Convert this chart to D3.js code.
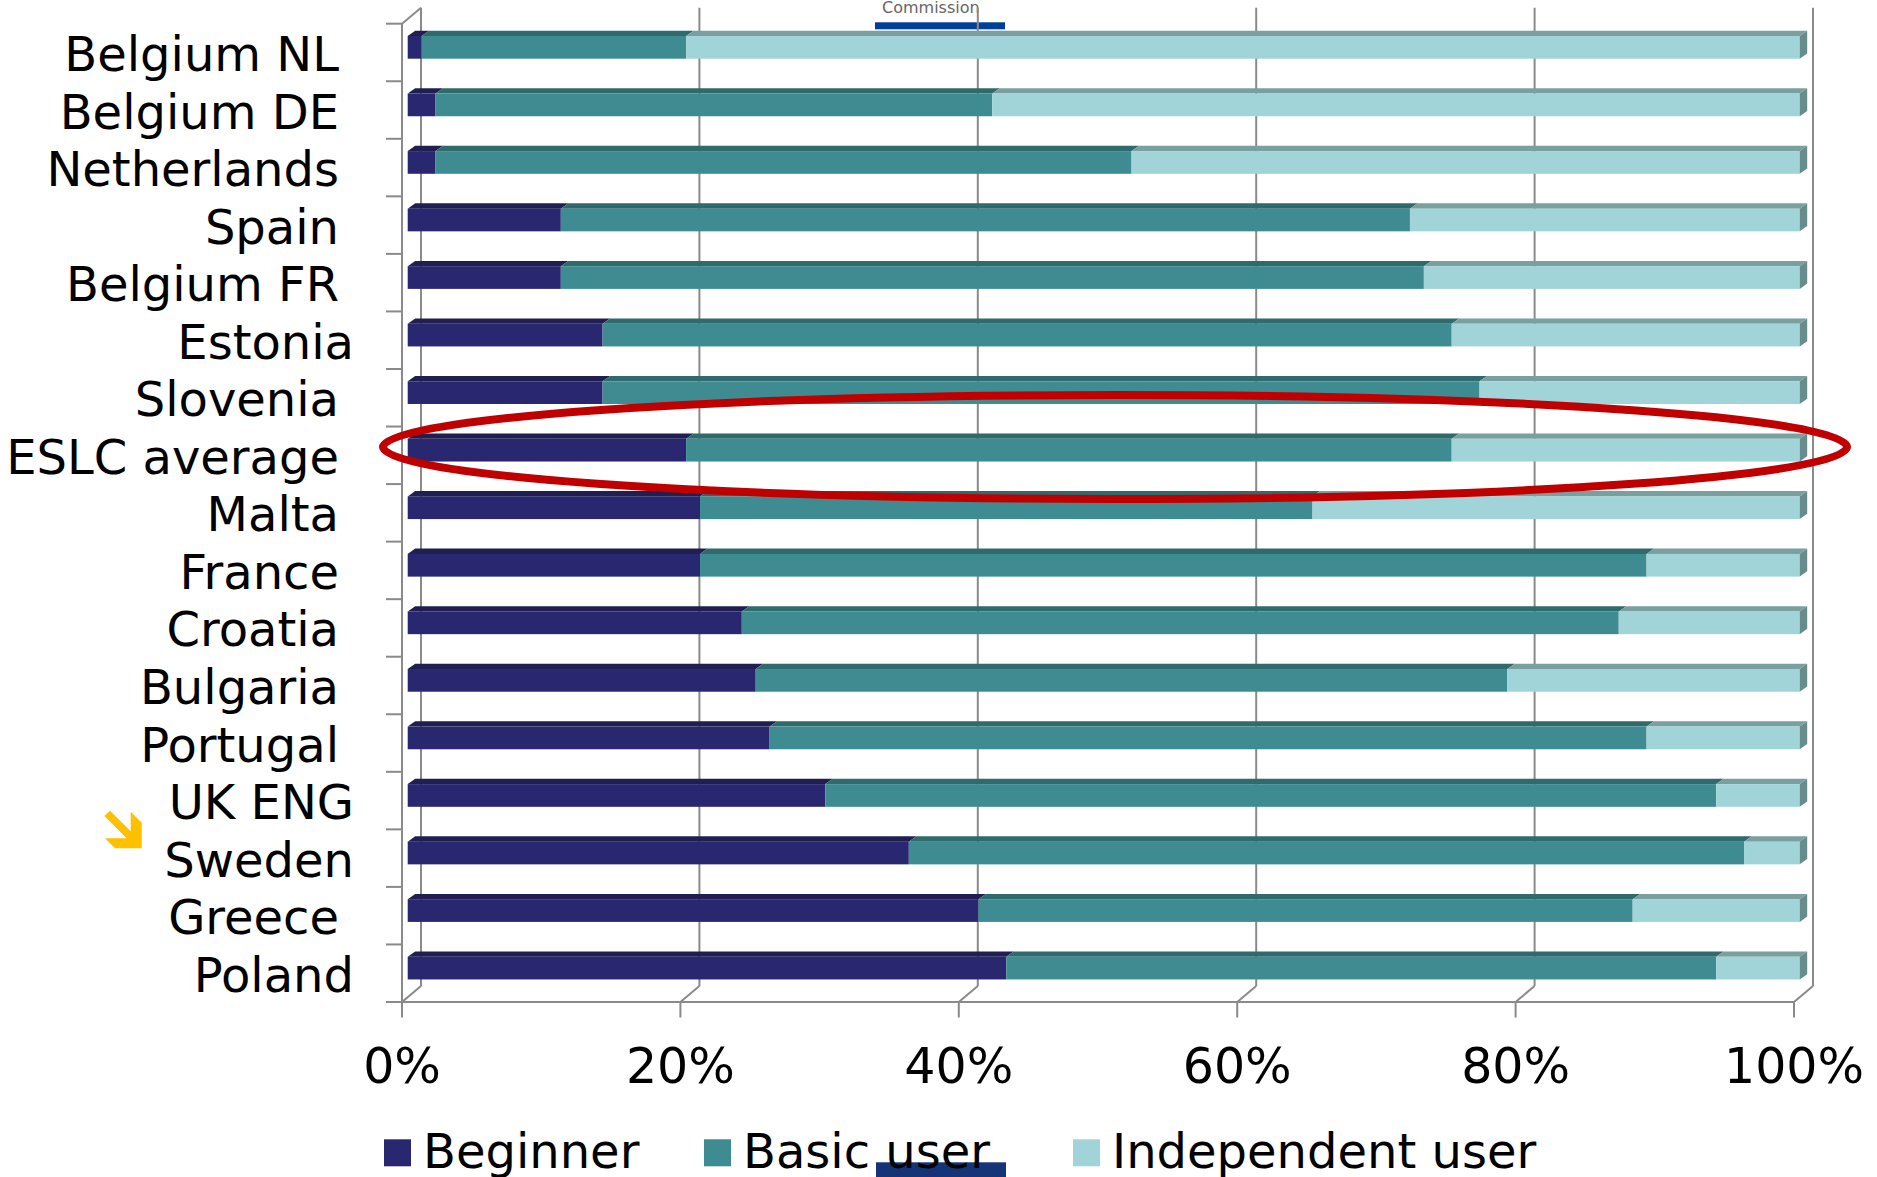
<!DOCTYPE html>
<html>
<head>
<meta charset="utf-8">
<script src="https://cdn.jsdelivr.net/npm/d3@7"></script>
<style>
  html, body { margin: 0; padding: 0; background: #ffffff; }
  svg { display: block; }
  text { font-family: "DejaVu Sans", Verdana, sans-serif; }
</style>
</head>
<body>
<svg id="chart" width="1877" height="1177"></svg>
<script>
// ---------------- data ----------------
const categories = ["Belgium NL", "Belgium DE", "Netherlands", "Spain", "Belgium FR", "Estonia", "Slovenia",
  "ESLC average", "Malta", "France", "Croatia", "Bulgaria", "Portugal", "UK ENG", "Sweden", "Greece", "Poland"];
const beginner    = [1, 2, 2, 11, 11, 14, 14, 20, 21, 21, 24, 25, 26, 30, 36, 41, 43];
const basicUser   = [19, 40, 50, 61, 62, 61, 63, 55, 44, 68, 63, 54, 63, 64, 60, 47, 51];
const independent = [80, 58, 48, 28, 27, 25, 23, 25, 35, 11, 13, 21, 11, 6, 4, 12, 6];
const seriesNames = ["Beginner", "Basic user", "Independent user"];
const tickValues = [0, 20, 40, 60, 80, 100];
const tickLabels = ["0%", "20%", "40%", "60%", "80%", "100%"];

// ---------------- styles ----------------
const frontColors = ["#29276f", "#3e8c92", "#a1d4d8"];
const topColors   = ["#211f52", "#2f6a6d", "#7a9f9f"];
const sideColor   = "#678c8c";
const gridColor   = "#8a8a8a";

const svg = d3.select("#chart");

// table for stacking
const table = categories.map((c, i) => ({
  cat: c, "Beginner": beginner[i], "Basic user": basicUser[i], "Independent user": independent[i]
}));
const stacked = d3.stack().keys(seriesNames)(table);

// ---------------- scales ----------------
const x = d3.scaleLinear().domain([0, 100]).range([402, 1794]);
const y = d3.scaleBand().domain(categories).range([23.7, 1002]).paddingInner(0).paddingOuter(0);
const depth = { dx: 19, dy: -16 };   // back wall offset
const floorY = 1002;
const topY = 23.7;

// ---------------- decorations behind chart ----------------
svg.append("text").attr("x", 882).attr("y", 12.5)
  .attr("font-size", 16).attr("fill", "#666666").text("Commission");
svg.append("rect").attr("x", 875).attr("y", 22.3).attr("width", 130).attr("height", 7)
  .attr("fill", "#003e97");

// ---------------- 3D frame / grid ----------------
const grid = svg.append("g").attr("stroke", gridColor).attr("stroke-width", 2).attr("fill", "none");
// back wall vertical gridlines
grid.selectAll("line.back").data(tickValues).join("line")
  .attr("x1", d => x(d) + depth.dx).attr("x2", d => x(d) + depth.dx)
  .attr("y1", topY + depth.dy).attr("y2", floorY + depth.dy);
// floor diagonals
grid.selectAll("line.floor").data(tickValues).join("line")
  .attr("x1", d => x(d) + depth.dx).attr("y1", floorY + depth.dy)
  .attr("x2", d => x(d)).attr("y2", floorY);
// front ticks below floor
grid.selectAll("line.ftick").data(tickValues).join("line")
  .attr("x1", d => x(d)).attr("x2", d => x(d))
  .attr("y1", floorY).attr("y2", floorY + 15.5);
// floor front edge
grid.append("line").attr("x1", 386).attr("x2", x(100)).attr("y1", floorY).attr("y2", floorY);
// left axis
grid.append("line").attr("x1", x(0)).attr("x2", x(0)).attr("y1", topY).attr("y2", floorY);
grid.append("line").attr("x1", x(0)).attr("y1", topY).attr("x2", x(0) + depth.dx).attr("y2", topY + depth.dy);
// category ticks on left
const boundaries = categories.map(c => y(c)).concat([floorY]);
grid.selectAll("line.ctick").data(boundaries).join("line")
  .attr("x1", 386).attr("x2", x(0)).attr("y1", d => d).attr("y2", d => d);

// ---------------- bars ----------------
const barDx = 5.7, faceTop = 12.3, faceH = 22.7, tdx = 7.5, tdy = -5.3;
const bars = svg.append("g");
stacked.forEach((layer, si) => {
  const g = bars.append("g");
  // top face
  g.selectAll("path.top").data(layer).join("path")
    .attr("d", d => {
      const x0 = x(d[0]) + barDx, x1 = x(d[1]) + barDx, yt = y(d.data.cat) + faceTop;
      return `M${x0},${yt}L${x0 + tdx},${yt + tdy}L${x1 + tdx},${yt + tdy}L${x1},${yt}Z`;
    })
    .attr("fill", topColors[si]);
  // front face
  g.selectAll("rect.front").data(layer).join("rect")
    .attr("x", d => x(d[0]) + barDx)
    .attr("y", d => y(d.data.cat) + faceTop)
    .attr("width", d => x(d[1]) - x(d[0]))
    .attr("height", faceH)
    .attr("fill", frontColors[si]);
  // right side face at the end of the last series
  if (si === stacked.length - 1) {
    g.selectAll("path.side").data(layer).join("path")
      .attr("d", d => {
        const x1 = x(d[1]) + barDx, yt = y(d.data.cat) + faceTop;
        return `M${x1},${yt}L${x1 + tdx},${yt + tdy}L${x1 + tdx},${yt + tdy + faceH}L${x1},${yt + faceH}Z`;
      })
      .attr("fill", sideColor);
  }
});

// ---------------- labels ----------------
const shifted = new Set(["Estonia", "UK ENG", "Sweden", "Poland"]);
svg.append("g").selectAll("text").data(categories).join("text")
  .attr("x", d => shifted.has(d) ? 354 : 339)
  .attr("y", d => y(d) + y.bandwidth() / 2 + 18.5)
  .attr("text-anchor", "end")
  .attr("font-size", 48)
  .attr("fill", "#000")
  .text(d => d);

svg.append("g").selectAll("text").data(tickValues).join("text")
  .attr("x", d => x(d))
  .attr("y", 1083)
  .attr("text-anchor", "middle")
  .attr("font-size", 49)
  .attr("fill", "#000")
  .text((d, i) => tickLabels[i]);

// ---------------- legend ----------------
const legendX = [384, 704, 1073];
const lg = svg.append("g");
// navy strip behind the legend text
lg.append("rect").attr("x", 876).attr("y", 1162.3).attr("width", 130).attr("height", 20)
  .attr("fill", "#143477");
seriesNames.forEach((name, i) => {
  lg.append("rect").attr("x", legendX[i]).attr("y", 1139.3).attr("width", 27).attr("height", 27)
    .attr("fill", frontColors[i]);
  lg.append("text").attr("x", legendX[i] + 39).attr("y", 1168)
    .attr("font-size", 48).attr("fill", "#000").text(name);
});

// ---------------- annotations ----------------
svg.append("ellipse")
  .attr("cx", 1115).attr("cy", 447).attr("rx", 732).attr("ry", 52)
  .attr("fill", "none").attr("stroke", "#c00000").attr("stroke-width", 8);

svg.append("path")
  .attr("d", "M110,810.7L130.7,831.3L130.7,811.7L141.7,822.7L141.7,848.3L115,848.3L105,838.3L126.7,838.3L104.3,816Z")
  .attr("fill", "#ffc000");
</script>
</body>
</html>
